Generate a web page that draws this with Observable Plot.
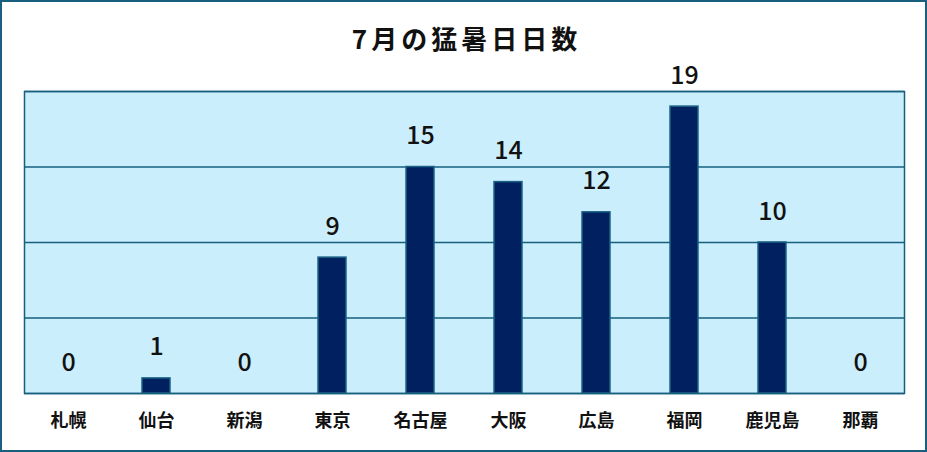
<!DOCTYPE html>
<html>
<head>
<meta charset="utf-8">
<script src="https://cdn.jsdelivr.net/npm/d3@7"></script>
<script src="https://cdn.jsdelivr.net/npm/@observablehq/plot@0.6"></script>
<style>
  html, body { margin: 0; padding: 0; background: #fff; }
  #chart svg { display: block; outline: 2px solid #1a5f80; outline-offset: -2px; }
</style>
</head>
<body>
<div id="chart"></div>
<script>
const title = "7月の猛暑日日数";
const cities = ["札幌", "仙台", "新潟", "東京", "名古屋", "大阪", "広島", "福岡", "鹿児島", "那覇"];
const days = [0, 1, 0, 9, 15, 14, 12, 19, 10, 0];
const yTicks = [0, 5, 10, 15, 20];

const data = cities.map((c, i) => ({city: c, days: days[i]}));
const font = "'Noto Sans CJK JP', 'Noto Sans', sans-serif";

const chart = Plot.plot({
  width: 927,
  height: 452,
  marginTop: 91,
  marginBottom: 59,
  marginLeft: 24,
  marginRight: 23,
  style: {fontFamily: font, background: "#fff", color: "#111"},
  x: {domain: cities, paddingInner: 0.68, paddingOuter: 0.34, label: null},
  y: {domain: [0, 20], axis: null},
  marks: [
    Plot.frame({fill: "#cbeefc", stroke: "none"}),
    Plot.gridY(yTicks, {stroke: "#175f7f", strokeOpacity: 1, strokeWidth: 1.5}),
    Plot.barY(data, {x: "city", y: "days", fill: "#002060", stroke: "#1b6385", strokeWidth: 1.5}),
    Plot.frame({stroke: "#175f7f", strokeWidth: 1.5}),
    Plot.text(data, {x: "city", y: "days", text: d => String(d.days), dy: -31, lineAnchor: "middle", fontSize: 25, fontWeight: 500, fill: "#111"}),
    Plot.axisX({tickSize: 0, tickPadding: 21, fontSize: 18, fontWeight: 600, fill: "#111"}),
    Plot.text([title], {frameAnchor: "top", dy: -51, dx: 2, lineAnchor: "middle", fontSize: 26, fontWeight: "bold", fill: "#111"})
  ]
});
d3.select(chart).selectAll("text").filter(function() { return this.textContent === title; })
  .style("letter-spacing", "4px");
document.getElementById("chart").appendChild(chart);
</script>
</body>
</html>
